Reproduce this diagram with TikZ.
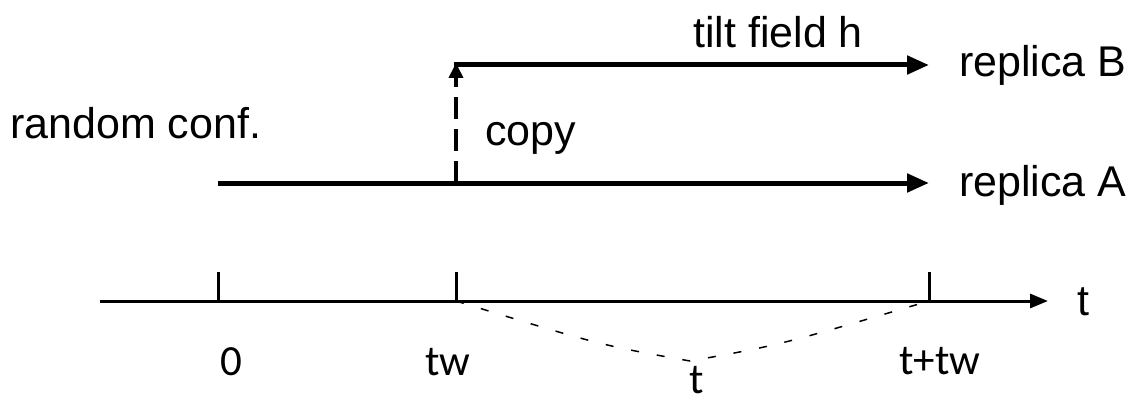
\documentclass[tikz,border=0pt]{standalone}
\usepackage{fontspec}
\setmainfont{Liberation Sans}
\newfontfamily\calfont{Carlito}
\usetikzlibrary{arrows.meta}
\begin{document}
\begin{tikzpicture}[x=1pt,y=-1pt,
  lbl/.style={inner sep=0pt,font=\fontsize{43}{50}\selectfont},
  clbl/.style={inner sep=0pt,anchor=base,font=\calfont\fontsize{43}{50}\selectfont},
  thick line/.style={line width=5pt,-{Triangle[length=22pt,width=18pt]}},
  axis/.style={line width=3pt,-{Triangle[length=18pt,width=14pt]}},
  tick/.style={line width=3pt},
  copyarrow/.style={line width=4pt,dash pattern=on 22pt off 10pt,-{Triangle[length=15pt,width=14pt]}},
  spanline/.style={line width=1.5pt,dash pattern=on 8pt off 18pt}]
\useasboundingbox (0,0) rectangle (1136,404);
% coordinates
\coordinate (A0) at (218,183);
\coordinate (A1) at (929,183);
\coordinate (C) at (456,183);
\coordinate (B0) at (456,65);
\coordinate (B1) at (929,65);
\coordinate (T0) at (100,301);
\coordinate (T1) at (1048,301);
\coordinate (k0) at (218,301);
\coordinate (k0t) at (218,272);
\coordinate (k1) at (456,301);
\coordinate (k1t) at (456,272);
\coordinate (k2) at (929,301);
\coordinate (k2t) at (929,272);
\coordinate (M) at (690,361);
% labels
\node[lbl,anchor=base west] (rb) at (959,77) {replica B};
\node[lbl,anchor=base west] (ra) at (959,196) {replica A};
\node[lbl,anchor=base west] (tf) at (693,48) {tilt field h};
\node[lbl,anchor=base west] (rc) at (10,138) {random conf.};
\node[lbl,anchor=base west] (cp) at (485,146) {copy};
\node[lbl,anchor=base] (tax) at (1083,315) {t};
\node[clbl] (l0) at (231,375) {0};
\node[clbl] (ltw) at (448,375) {tw};
\node[clbl] (lttw) at (940,374) {t+tw};
\node[clbl] (lt) at (697,393) {t};
% lines
\draw[thick line] (A0) -- (A1);
\draw[thick line] ([xshift=-2.5pt]B0) -- (B1);
\draw[copyarrow] (C) -- ([yshift=2pt]B0);
\draw[axis] (T0) -- (T1);
\draw[tick] (k0) -- (k0t);
\draw[tick] (k1) -- (k1t);
\draw[tick] (k2) -- (k2t);
\draw[spanline] (k1) .. controls (600,345) .. (M) .. controls (780,345) .. (k2);
\end{tikzpicture}
\end{document}
